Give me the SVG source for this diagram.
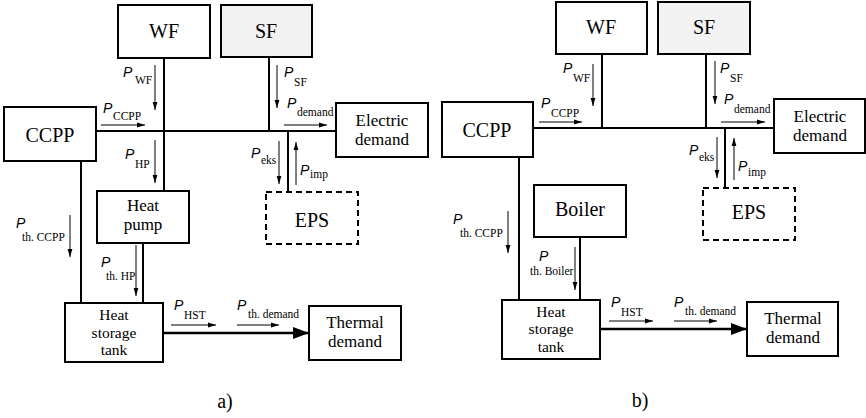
<svg xmlns="http://www.w3.org/2000/svg" width="866" height="418" viewBox="0 0 866 418">
<defs>
<marker id="sa" viewBox="0 0 8 6" refX="8" refY="3" markerWidth="8" markerHeight="6" markerUnits="userSpaceOnUse" orient="auto"><path d="M0,0.6 L8,3 L0,5.4 Z" fill="#000"/></marker>
<marker id="ba" viewBox="0 0 16 12" refX="16" refY="6" markerWidth="16" markerHeight="12" markerUnits="userSpaceOnUse" orient="auto"><path d="M0,0 L16,6 L0,12 Z" fill="#000"/></marker>
<style>
.box{fill:#fff;stroke:#000;stroke-width:2}
.sf{fill:#f2f2f2;stroke:#000;stroke-width:2}
.eps{fill:#fff;stroke:#000;stroke-width:2;stroke-dasharray:6 4}
.ln{stroke:#000;stroke-width:2;fill:none}
.th{stroke:#000;stroke-width:2.5;fill:none}
.sm{stroke:#000;stroke-width:1;fill:none;marker-end:url(#sa)}
.lbl{font-family:"Liberation Serif","Times New Roman",serif;font-size:20px;text-anchor:middle;fill:#000}
.lbl2{font-family:"Liberation Serif","Times New Roman",serif;font-size:17px;text-anchor:middle;fill:#000}
.lbl3{font-family:"Liberation Serif","Times New Roman",serif;font-size:15.5px;text-anchor:middle;fill:#000}
.cap{font-family:"Liberation Serif","Times New Roman",serif;font-size:20px;text-anchor:middle;fill:#000}
.p{font-family:"Liberation Sans",Arial,sans-serif;font-style:italic;font-size:14px;fill:#000}
.s{font-family:"Liberation Serif","Times New Roman",serif;font-size:11.5px;fill:#000}
</style>
</defs>

<g id="connectors">
<!-- panel a -->
<line class="ln" x1="96" y1="131" x2="336" y2="131"/>
<line class="ln" x1="164" y1="58" x2="164" y2="191"/>
<line class="ln" x1="269" y1="58" x2="269" y2="131"/>
<line class="ln" x1="288" y1="131" x2="288" y2="192"/>
<line class="ln" x1="81" y1="161" x2="81" y2="303"/>
<line class="ln" x1="143" y1="243" x2="143" y2="303"/>
<line class="th" x1="163" y1="333" x2="309" y2="333" marker-end="url(#ba)"/>
<line class="sm" x1="155" y1="65" x2="155" y2="110"/>
<line class="sm" x1="277" y1="65" x2="277" y2="108"/>
<line class="sm" x1="101" y1="125" x2="145" y2="125"/>
<line class="sm" x1="284" y1="125" x2="327" y2="125"/>
<line class="sm" x1="155" y1="140" x2="155" y2="183"/>
<line class="sm" x1="279" y1="141" x2="279" y2="184"/>
<line class="sm" x1="296" y1="185" x2="296" y2="142"/>
<line class="sm" x1="70" y1="215" x2="70" y2="257"/>
<line class="sm" x1="136" y1="245" x2="136" y2="296"/>
<line class="sm" x1="171" y1="325" x2="216" y2="325"/>
<line class="sm" x1="237" y1="325" x2="279" y2="325"/>
<!-- panel b -->
<line class="ln" x1="533" y1="128" x2="774" y2="128"/>
<line class="ln" x1="602" y1="54" x2="602" y2="128"/>
<line class="ln" x1="706" y1="54" x2="706" y2="128"/>
<line class="ln" x1="725" y1="128" x2="725" y2="188"/>
<line class="ln" x1="519" y1="157" x2="519" y2="300"/>
<line class="ln" x1="580" y1="237" x2="580" y2="300"/>
<line class="th" x1="600" y1="329" x2="747" y2="329" marker-end="url(#ba)"/>
<line class="sm" x1="593" y1="64" x2="593" y2="106"/>
<line class="sm" x1="715" y1="61" x2="715" y2="104"/>
<line class="sm" x1="539" y1="122" x2="582" y2="122"/>
<line class="sm" x1="721" y1="122" x2="765" y2="122"/>
<line class="sm" x1="717" y1="137" x2="717" y2="178"/>
<line class="sm" x1="734" y1="180" x2="734" y2="138"/>
<line class="sm" x1="508" y1="211" x2="508" y2="253"/>
<line class="sm" x1="575" y1="247" x2="575" y2="290"/>
<line class="sm" x1="609" y1="321" x2="653" y2="321"/>
<line class="sm" x1="674" y1="321" x2="717" y2="321"/>
</g>

<g id="flow-labels">
<text class="p" x="123" y="77">P</text><text class="s" x="135" y="84">WF</text>
<text class="p" x="284" y="77">P</text><text class="s" x="294" y="86">SF</text>
<text class="p" x="103" y="113">P</text><text class="s" x="113" y="120">CCPP</text>
<text class="p" x="287" y="108">P</text><text class="s" x="297" y="116">demand</text>
<text class="p" x="125" y="159">P</text><text class="s" x="135" y="168">HP</text>
<text class="p" x="251" y="158">P</text><text class="s" x="261" y="164">eks</text>
<text class="p" x="300" y="175">P</text><text class="s" x="310" y="178">imp</text>
<text class="p" x="16" y="228">P</text><text class="s" x="22" y="241">th. CCPP</text>
<text class="p" x="101" y="267">P</text><text class="s" x="106" y="280">th. HP</text>
<text class="p" x="174" y="310">P</text><text class="s" x="184" y="319">HST</text>
<text class="p" x="237" y="310">P</text><text class="s" x="248" y="318">th. demand</text>

<text class="p" x="563" y="73">P</text><text class="s" x="573" y="82">WF</text>
<text class="p" x="720" y="73">P</text><text class="s" x="730" y="82">SF</text>
<text class="p" x="541" y="108">P</text><text class="s" x="551" y="117">CCPP</text>
<text class="p" x="724" y="104">P</text><text class="s" x="734" y="113">demand</text>
<text class="p" x="689" y="155">P</text><text class="s" x="699" y="161">eks</text>
<text class="p" x="738" y="171">P</text><text class="s" x="748" y="176">imp</text>
<text class="p" x="453" y="224">P</text><text class="s" x="460" y="237">th. CCPP</text>
<text class="p" x="539" y="261">P</text><text class="s" x="530" y="275">th. Boiler</text>
<text class="p" x="611" y="307">P</text><text class="s" x="621" y="316">HST</text>
<text class="p" x="674" y="307">P</text><text class="s" x="685" y="315">th. demand</text>
</g>

<!-- panel a nodes -->
<g id="a-wf"><rect class="box" x="118" y="5" width="92" height="53"/><text class="lbl" x="164" y="38">WF</text></g>
<g id="a-sf"><rect class="sf" x="221" y="5" width="91" height="52"/><text class="lbl" x="266" y="38">SF</text></g>
<g id="a-ccpp"><rect class="box" x="4" y="107" width="92" height="54"/><text class="lbl" x="50" y="142">CCPP</text></g>
<g id="a-elec"><rect class="box" x="336" y="103" width="92" height="54"/><text class="lbl2" x="382" y="126">Electric</text><text class="lbl2" x="382" y="145">demand</text></g>
<g id="a-eps"><rect class="eps" x="266" y="192" width="92" height="52"/><text class="lbl" x="312" y="227">EPS</text></g>
<g id="a-hp"><rect class="box" x="97" y="191" width="92" height="52"/><text class="lbl2" x="143" y="211">Heat</text><text class="lbl2" x="143" y="230">pump</text></g>
<g id="a-hst"><rect class="box" x="65" y="303" width="98" height="59"/><text class="lbl3" x="114" y="320">Heat</text><text class="lbl3" x="114" y="337.5">storage</text><text class="lbl3" x="114" y="355">tank</text></g>
<g id="a-thermal"><rect class="box" x="309" y="306" width="92" height="54"/><text class="lbl2" x="355" y="328">Thermal</text><text class="lbl2" x="355" y="347">demand</text></g>
<g id="a-caption"><text class="cap" x="225" y="408">a)</text></g>

<!-- panel b nodes -->
<g id="b-wf"><rect class="box" x="556" y="2" width="91" height="52"/><text class="lbl" x="601" y="34">WF</text></g>
<g id="b-sf"><rect class="sf" x="658" y="2" width="92" height="52"/><text class="lbl" x="704" y="34">SF</text></g>
<g id="b-ccpp"><rect class="box" x="442" y="102" width="91" height="55"/><text class="lbl" x="487" y="137">CCPP</text></g>
<g id="b-elec"><rect class="box" x="774" y="99" width="91" height="54"/><text class="lbl2" x="820" y="122">Electric</text><text class="lbl2" x="820" y="141">demand</text></g>
<g id="b-eps"><rect class="eps" x="703" y="188" width="92" height="52"/><text class="lbl" x="749" y="219">EPS</text></g>
<g id="b-boiler"><rect class="box" x="534" y="185" width="92" height="52"/><text class="lbl" x="580" y="216">Boiler</text></g>
<g id="b-hst"><rect class="box" x="502" y="300" width="98" height="59"/><text class="lbl3" x="551" y="316.5">Heat</text><text class="lbl3" x="551" y="334">storage</text><text class="lbl3" x="551" y="351.5">tank</text></g>
<g id="b-thermal"><rect class="box" x="747" y="302" width="91" height="54"/><text class="lbl2" x="793" y="324">Thermal</text><text class="lbl2" x="793" y="343">demand</text></g>
<g id="b-caption"><text class="cap" x="640" y="407">b)</text></g>
</svg>
